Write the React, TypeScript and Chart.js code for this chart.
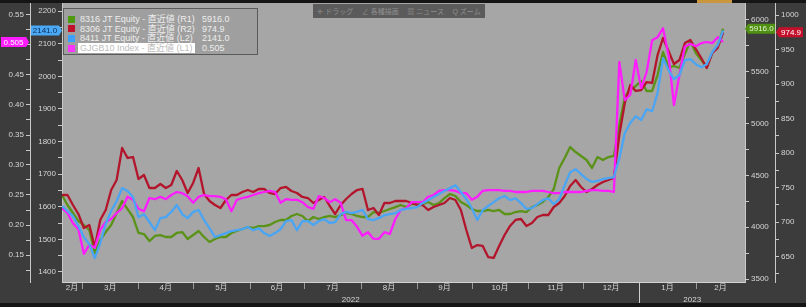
import React, { useEffect, useRef } from 'react';
import { Chart, registerables } from 'chart.js';

Chart.register(...registerables);

// ---------- data ----------
const dates = [
  '2022-02-18','2022-02-21','2022-02-24','2022-02-27','2022-03-02','2022-03-05','2022-03-08','2022-03-11','2022-03-14','2022-03-17',
  '2022-03-20','2022-03-23','2022-03-26','2022-03-29','2022-04-01','2022-04-04','2022-04-07','2022-04-10','2022-04-13','2022-04-16',
  '2022-04-19','2022-04-22','2022-04-25','2022-04-28','2022-05-01','2022-05-04','2022-05-07','2022-05-10','2022-05-13','2022-05-16',
  '2022-05-19','2022-05-22','2022-05-25','2022-05-28','2022-05-31','2022-06-03','2022-06-06','2022-06-09','2022-06-12','2022-06-15',
  '2022-06-18','2022-06-21','2022-06-24','2022-06-27','2022-06-30','2022-07-03','2022-07-06','2022-07-09','2022-07-12','2022-07-15',
  '2022-07-18','2022-07-21','2022-07-24','2022-07-27','2022-07-30','2022-08-02','2022-08-05','2022-08-08','2022-08-11','2022-08-14',
  '2022-08-17','2022-08-20','2022-08-23','2022-08-26','2022-08-29','2022-09-01','2022-09-04','2022-09-07','2022-09-10','2022-09-13',
  '2022-09-16','2022-09-19','2022-09-22','2022-09-25','2022-09-28','2022-10-01','2022-10-04','2022-10-07','2022-10-10','2022-10-13',
  '2022-10-16','2022-10-19','2022-10-22','2022-10-25','2022-10-28','2022-10-31','2022-11-03','2022-11-06','2022-11-09','2022-11-12',
  '2022-11-15','2022-11-18','2022-11-21','2022-11-24','2022-11-27','2022-11-30','2022-12-03','2022-12-06','2022-12-09','2022-12-12',
  '2022-12-15','2022-12-18','2022-12-21','2022-12-24','2022-12-27','2022-12-30','2023-01-02','2023-01-05','2023-01-08','2023-01-11',
  '2023-01-14','2023-01-17','2023-01-20','2023-01-23','2023-01-26','2023-01-29','2023-02-01','2023-02-04','2023-02-07','2023-02-10',
  '2023-02-13','2023-02-16',
];

// 8316 JT Equity (R1)
const eq8316 = [
  4311,4215,4138,4060,4022,3974,3752,3877,3954,4022,
  4138,4253,4176,4099,3945,3935,3867,3916,3925,3906,
  3906,3945,3954,3887,3925,3964,3906,3858,3887,3906,
  3906,3945,3964,3983,4002,3993,4012,4012,4022,4051,
  4070,4070,4109,4128,4109,4060,4099,4080,4099,4109,
  4099,4118,4138,4128,4109,4099,4099,4147,4138,4157,
  4176,4195,4215,4195,4224,4224,4224,4244,4215,4234,
  4282,4321,4302,4244,4215,4176,4157,4157,4167,4157,
  4167,4128,4128,4147,4157,4147,4195,4215,4244,4292,
  4369,4572,4668,4774,4726,4688,4649,4572,4678,4649,
  4678,4688,4987,5257,5325,5363,5411,5315,5315,5469,
  5691,5546,5556,5537,5672,5797,5682,5614,5546,5682,
  5749,5916.0,
];

// 8306 JT Equity (R2)
const eq8306 = [
  739.2,739.2,724.7,711.6,691.4,695.7,663.8,703.0,717.4,746.4,
  760.9,807.3,792.8,794.2,762.4,768.2,749.3,749.3,755.1,749.3,
  753.7,774.0,760.9,742.1,756.6,778.3,740.6,730.5,724.7,720.3,
  731.9,739.2,739.2,743.5,746.4,743.5,747.9,747.9,742.1,740.6,
  749.3,750.8,745.0,742.1,736.3,734.8,727.6,731.9,736.3,723.2,
  711.6,724.7,733.4,740.6,746.4,747.9,717.4,720.3,710.2,727.6,
  727.6,730.5,730.5,730.5,727.6,724.7,724.7,717.4,721.8,724.7,
  727.6,734.8,731.9,717.4,688.5,662.4,666.7,665.3,649.3,647.9,
  665.3,681.2,694.3,703.0,704.4,694.3,698.6,707.3,710.2,710.2,
  721.8,727.6,737.7,752.2,760.9,750.8,743.5,747.9,753.7,758.0,
  760.9,763.8,826.1,872.5,898.6,889.9,891.3,902.9,901.5,942.0,
  966.7,947.8,929.0,934.8,959.4,963.8,950.7,937.7,923.2,944.9,
  952.2,974.9,
];

// 8411 JT Equity (L2)
const eq8411 = [
  1602,1587,1571,1541,1507,1485,1442,1488,1547,1587,
  1617,1657,1648,1630,1568,1577,1553,1528,1565,1568,
  1584,1605,1577,1565,1584,1590,1559,1534,1507,1513,
  1519,1525,1528,1531,1538,1528,1534,1519,1510,1519,
  1531,1556,1559,1528,1556,1556,1544,1556,1562,1550,
  1553,1577,1584,1580,1584,1590,1562,1559,1565,1574,
  1577,1580,1590,1593,1596,1599,1611,1620,1630,1639,
  1648,1657,1666,1645,1623,1596,1559,1590,1602,1614,
  1626,1633,1620,1626,1611,1593,1596,1608,1620,1626,
  1608,1623,1666,1706,1715,1700,1685,1676,1679,1685,
  1688,1691,1749,1826,1857,1878,1866,1899,1893,1949,
  2056,2019,1991,2004,2050,2053,2037,2028,2037,2074,
  2096,2141.0,
];

// GJGB10 Index (L1)
const jgb10 = [
  0.228,0.220,0.203,0.193,0.152,0.167,0.162,0.192,0.205,0.210,
  0.220,0.228,0.247,0.242,0.227,0.223,0.245,0.243,0.247,0.243,
  0.250,0.255,0.253,0.248,0.237,0.247,0.250,0.248,0.248,0.247,
  0.243,0.223,0.242,0.245,0.247,0.250,0.253,0.255,0.257,0.255,
  0.237,0.243,0.242,0.242,0.238,0.230,0.227,0.248,0.245,0.238,
  0.243,0.237,0.208,0.208,0.197,0.182,0.188,0.177,0.177,0.188,
  0.185,0.210,0.225,0.228,0.238,0.238,0.238,0.247,0.250,0.257,
  0.258,0.258,0.257,0.253,0.253,0.242,0.247,0.257,0.258,0.258,
  0.258,0.257,0.257,0.255,0.255,0.255,0.257,0.257,0.257,0.255,
  0.253,0.253,0.255,0.255,0.255,0.255,0.257,0.258,0.258,0.257,
  0.257,0.255,0.472,0.408,0.417,0.475,0.428,0.455,0.508,0.513,
  0.528,0.483,0.400,0.450,0.497,0.502,0.498,0.503,0.505,0.503,
  0.513,0.505,
];

const seriesNames = [
  '8316 JT Equity - 直近値 (R1)',
  '8306 JT Equity - 直近値 (R2)',
  '8411 JT Equity - 直近値 (L2)',
  'GJGB10 Index - 直近値 (L1)',
];

// axis ticks
const jgbTicks = [0.15, 0.2, 0.25, 0.3, 0.35, 0.4, 0.45, 0.5, 0.55];
const jgbMinor = [0.125, 0.175, 0.225, 0.275, 0.325, 0.375, 0.425, 0.475, 0.525];
const l2Ticks = [1400, 1500, 1600, 1700, 1800, 1900, 2000, 2100, 2200];
const l2Minor = [1450, 1550, 1650, 1750, 1850, 1950, 2050, 2150];
const r1Ticks = [3500, 4000, 4500, 5000, 5500, 6000];
const r1Minor = [3750, 4250, 4750, 5250, 5750];
const r2Ticks = [650, 700, 750, 800, 850, 900, 950, 1000];
const r2Minor = [625, 675, 725, 775, 825, 875, 925, 975];
const hiddenLabels = [0.5];

const monthStarts = [
  '2022-02-01','2022-03-01','2022-04-01','2022-05-01','2022-06-01','2022-07-01','2022-08-01',
  '2022-09-01','2022-10-01','2022-11-01','2022-12-01','2023-01-01','2023-02-01','2023-03-01',
];
const yearStarts = ['2022-01-01', '2023-01-01', '2024-01-01'];
const toolbarItems = ['✛ ドラッグ', '∠ 各種描画', '▦ ニュース', 'Q ズーム'];

// ---------- styling ----------
const FONT = "'Liberation Sans', 'Noto Sans CJK JP', sans-serif";
const C_GREEN = '#5a9317';
const C_RED = '#b3162c';
const C_BLUE = '#4aa5f5';
const C_PINK = '#ff1cff';
const C_TEXT = '#d6d6d6';
const C_AXIS = '#c8c8c8';

const BASE = Date.parse('2022-02-18');
const toDay = (s: string) => (Date.parse(s) - BASE) / 86400000;
const X_MIN = 0;
const X_MAX = 375;

function spanTicks(starts: string[], labelOf: (s: string) => string) {
  const out: { value: number; label: string }[] = [];
  for (let i = 0; i < starts.length - 1; i++) {
    const a = Math.max(toDay(starts[i]), X_MIN);
    const b = Math.min(toDay(starts[i + 1]), X_MAX);
    if (b > a) out.push({ value: (a + b) / 2, label: labelOf(starts[i]) });
  }
  return out;
}
const monthTicks = spanTicks(monthStarts, (s) => parseInt(s.slice(5, 7), 10) + '月');
const yearTicks = spanTicks(yearStarts, (s) => s.slice(0, 4));

const pts = (arr: number[]) => dates.map((d, i) => ({ x: toDay(d), y: arr[i] }));

function yAxis(position: string, weight: number, min: number, max: number, major: number[], minor: number[], fmt: (v: number) => string, width: number) {
  const isMajor = (v: number) => major.some((m) => Math.abs(m - v) < 1e-9);
  const hidden = (v: number) => hiddenLabels.some((m) => Math.abs(m - v) < 1e-9) && max < 1;
  return {
    type: 'linear',
    position,
    weight,
    min,
    max,
    bounds: 'data',
    grid: { display: true, drawOnChartArea: false, drawTicks: true, tickLength: 4, color: C_AXIS, tickWidth: 1 },
    border: { display: true, color: C_AXIS, width: 1 },
    ticks: {
      autoSkip: false,
      padding: 2,
      color: C_TEXT,
      font: { family: FONT, size: 8 },
      callback: (v: number) => (isMajor(v) && !hidden(v) ? fmt(v) : ''),
    },
    afterBuildTicks: (axis: any) => {
      axis.ticks = [...major, ...minor].sort((a, b) => a - b).map((v) => ({ value: v }));
    },
    afterFit: (s: any) => {
      s.width = width;
      s.paddingTop = 0;
      s.paddingBottom = 0;
    },
  };
}

function xAxis(weight: number, height: number, ticksList: { value: number; label: string }[], showBorder: boolean) {
  return {
    type: 'linear',
    position: 'bottom',
    weight,
    min: X_MIN,
    max: X_MAX,
    bounds: 'data',
    grid: { display: false, drawTicks: false, tickLength: 0 },
    border: { display: showBorder, color: '#d2d2d2', width: 1 },
    ticks: {
      autoSkip: false,
      minRotation: 0,
      maxRotation: 0,
      padding: 1,
      color: C_TEXT,
      font: { family: FONT, size: 8 },
      callback: (_v: any, i: number) => ticksList[i]?.label ?? '',
    },
    afterBuildTicks: (axis: any) => {
      axis.ticks = ticksList.map((t) => ({ value: t.value }));
    },
    afterFit: (s: any) => {
      s.height = height;
      s.paddingLeft = 0;
      s.paddingRight = 0;
    },
  };
}

function drawTag(ctx: CanvasRenderingContext2D, pointRight: boolean, tipX: number, y: number, w: number, text: string, fill: string, color: string) {
  const h = 10;
  const p = 3;
  ctx.beginPath();
  if (pointRight) {
    ctx.moveTo(tipX - w, y - h / 2);
    ctx.lineTo(tipX - p, y - h / 2);
    ctx.lineTo(tipX, y);
    ctx.lineTo(tipX - p, y + h / 2);
    ctx.lineTo(tipX - w, y + h / 2);
  } else {
    ctx.moveTo(tipX + w, y - h / 2);
    ctx.lineTo(tipX + p, y - h / 2);
    ctx.lineTo(tipX, y);
    ctx.lineTo(tipX + p, y + h / 2);
    ctx.lineTo(tipX + w, y + h / 2);
  }
  ctx.closePath();
  ctx.fillStyle = fill;
  ctx.fill();
  ctx.fillStyle = color;
  ctx.font = `8px ${FONT}`;
  ctx.textAlign = 'center';
  ctx.textBaseline = 'middle';
  const cx = pointRight ? tipX - (w + p) / 2 : tipX + (w + p) / 2;
  ctx.fillText(text, cx, y + 0.5);
}

const bgPlugin = {
  id: 'bgPlugin',
  beforeDraw(chart: any) {
    const { ctx, chartArea: a, width, height } = chart;
    ctx.save();
    ctx.fillStyle = '#3c3c3c';
    ctx.fillRect(0, 0, width, height);
    ctx.fillStyle = '#151515';
    ctx.fillRect(0, 0, width, 3);
    ctx.fillRect(0, height - 4, width, 4);
    ctx.fillStyle = '#c9963e';
    ctx.fillRect(697, 0, 35, 3);
    ctx.fillStyle = '#a6a6a6';
    ctx.fillRect(a.left, a.top, a.right - a.left, a.bottom - a.top);
    ctx.restore();
  },
};

const axisDecoPlugin = {
  id: 'axisDeco',
  afterDraw(chart: any) {
    const { ctx, chartArea: a, height } = chart;
    const xs = chart.scales.x;
    ctx.save();
    ctx.lineWidth = 1;
    ctx.strokeStyle = '#9a9a9a';
    for (const s of monthStarts) {
      const d = toDay(s);
      if (d <= X_MIN || d >= X_MAX) continue;
      const px = Math.round(xs.getPixelForValue(d)) + 0.5;
      ctx.beginPath();
      ctx.moveTo(px, a.bottom + 1);
      ctx.lineTo(px, a.bottom + 7);
      ctx.stroke();
    }
    ctx.strokeStyle = '#cfcfcf';
    for (const s of yearStarts) {
      const d = toDay(s);
      if (d <= X_MIN || d >= X_MAX) continue;
      const px = Math.round(xs.getPixelForValue(d)) + 0.5;
      ctx.beginPath();
      ctx.moveTo(px, a.bottom);
      ctx.lineTo(px, height - 4);
      ctx.stroke();
    }
    // last-value tags
    const s = chart.scales;
    const l1 = jgb10[jgb10.length - 1];
    const l2 = eq8411[eq8411.length - 1];
    const r1 = eq8316[eq8316.length - 1];
    const r2 = eq8306[eq8306.length - 1];
    drawTag(ctx, true, s.yL1.right - 1, s.yL1.getPixelForValue(l1), 28, l1.toFixed(3), '#ff1cff', '#ffffff');
    drawTag(ctx, true, s.yL2.right, s.yL2.getPixelForValue(l2), 31, l2.toFixed(1), '#4aa8f5', '#0d2b55');
    drawTag(ctx, false, s.yR1.left, s.yR1.getPixelForValue(r1), 30, r1.toFixed(1), '#4f8f12', '#e4f5d2');
    drawTag(ctx, false, s.yR2.left + 1, s.yR2.getPixelForValue(r2), 27, r2.toFixed(1), '#c5102c', '#ffffff');
    ctx.restore();
  },
};

function Legend() {
  const rows = [
    { name: seriesNames[0], color: '#4d9a0c', value: eq8316[eq8316.length - 1].toFixed(1) },
    { name: seriesNames[1], color: '#c0102a', value: eq8306[eq8306.length - 1].toFixed(1) },
    { name: seriesNames[2], color: '#3ba0ff', value: eq8411[eq8411.length - 1].toFixed(1) },
    { name: seriesNames[3], color: '#ff33ff', value: jgb10[jgb10.length - 1].toFixed(3) },
  ];
  return (
    <div
      style={{
        position: 'absolute', left: 63, top: 8, width: 195, height: 47, boxSizing: 'border-box',
        background: '#9f9f9f', border: '1px solid #5a5a5a', fontFamily: FONT, fontSize: 9, color: '#ededed',
      }}
    >
      {rows.map((r, i) => {
        const top = 5 + i * 9.7;
        const sel = i === 3;
        return (
          <div key={i} style={{ position: 'absolute', left: 0, top, height: 10, width: '100%' }}>
            <div style={{ position: 'absolute', left: 4, top: 1.5, width: 7, height: 7, background: r.color }} />
            <div
              style={{
                position: 'absolute', left: sel ? 14 : 16, top: 0, height: 10, lineHeight: '10px', whiteSpace: 'nowrap',
                background: sel ? '#ffffff' : 'transparent', color: sel ? '#bdbdbd' : '#ededed', padding: sel ? '0 2px' : 0,
              }}
            >
              {r.name}
            </div>
            <div style={{ position: 'absolute', left: 138, top: 0, height: 10, lineHeight: '10px', whiteSpace: 'nowrap' }}>{r.value}</div>
          </div>
        );
      })}
    </div>
  );
}

function Toolbar() {
  return (
    <div
      style={{
        position: 'absolute', left: 313, top: 4, width: 172, height: 14, background: '#5b5b5b',
        display: 'flex', alignItems: 'center', justifyContent: 'space-around', fontFamily: FONT, fontSize: 7, color: '#8f8f8f',
        whiteSpace: 'nowrap', overflow: 'hidden',
      }}
    >
      {toolbarItems.map((t, i) => (
        <span key={i}>{t}</span>
      ))}
    </div>
  );
}

export default function App() {
  const ref = useRef<HTMLCanvasElement | null>(null);

  useEffect(() => {
    const canvas = ref.current;
    if (!canvas) return;
    const chart = new Chart(canvas, {
      type: 'line',
      data: {
        datasets: [
          { label: seriesNames[2], data: pts(eq8411), yAxisID: 'yL2', borderColor: C_BLUE, order: 0 },
          { label: seriesNames[3], data: pts(jgb10), yAxisID: 'yL1', borderColor: C_PINK, order: 1 },
          { label: seriesNames[1], data: pts(eq8306), yAxisID: 'yR2', borderColor: C_RED, order: 2 },
          { label: seriesNames[0], data: pts(eq8316), yAxisID: 'yR1', borderColor: C_GREEN, order: 3 },
        ].map((d) => ({ ...d, borderWidth: 2.3, pointRadius: 0, tension: 0, fill: false, borderJoinStyle: 'round' })) as any,
      },
      options: {
        animation: false,
        responsive: false,
        devicePixelRatio: 1,
        events: [],
        layout: { padding: { top: 3, left: 0, right: 0, bottom: 0 }, autoPadding: false } as any,
        plugins: { legend: { display: false }, tooltip: { enabled: false } },
        scales: {
          x: xAxis(0, 12, monthTicks, true),
          x2: xAxis(1, 13, yearTicks, false),
          yL2: yAxis('left', 0, 1369, 2225, l2Ticks, l2Minor, (v) => String(v), 32),
          yL1: yAxis('left', 1, 0.105, 0.57, jgbTicks, jgbMinor, (v) => v.toFixed(2), 30),
          yR1: yAxis('right', 0, 3472, 6164, r1Ticks, r1Minor, (v) => String(v), 30),
          yR2: yAxis('right', 1, 613.1, 1017.4, r2Ticks, r2Minor, (v) => String(v), 31),
        } as any,
      },
      plugins: [bgPlugin, axisDecoPlugin],
    } as any);
    return () => chart.destroy();
  }, []);

  return (
    <div style={{ position: 'fixed', left: 0, top: 0, width: 806, height: 307, background: '#3c3c3c', overflow: 'hidden' }}>
      <canvas ref={ref} width={806} height={307} style={{ position: 'absolute', left: 0, top: 0, width: 806, height: 307 }} />
      <Toolbar />
      <Legend />
    </div>
  );
}
